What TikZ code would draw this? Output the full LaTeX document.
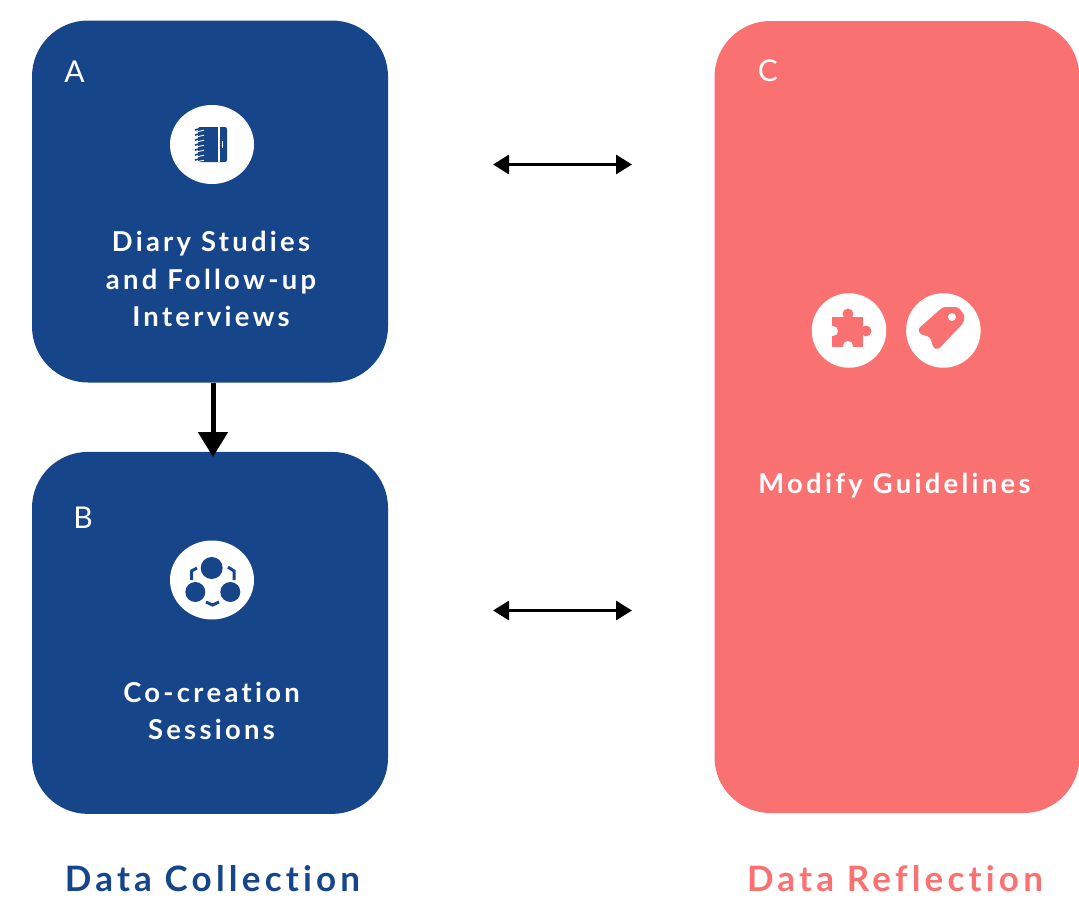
\documentclass[tikz,border=0pt]{standalone}
\usepackage{fontspec}
\setmainfont{Lato}
\usetikzlibrary{arrows.meta, positioning, shapes.geometric}
\definecolor{navy}{HTML}{17458A}
\definecolor{coral}{HTML}{FA7171}
\newfontfamily\boxfont[LetterSpace=12, Ligatures=NoCommon]{Lato Bold}
\newfontfamily\titlefont[LetterSpace=12, Ligatures=NoCommon]{Lato Bold}
\tikzset{%
	panel/.style={draw=none, rectangle, rounded corners=56pt, minimum width=356pt, inner sep=0pt},
	blue/.style={panel, fill=navy, minimum height=362pt},
	pink/.style={panel, fill=coral, minimum width=365pt, minimum height=792pt},
	letter/.style={text=white, font=\fontsize{30}{34}\selectfont},
	blurb/.style={text=white, align=center, font=\boxfont\fontsize{27.4}{37.3}\selectfont},
	title/.style={font=\titlefont\fontsize{35}{40}\selectfont},
	bigicon/.style={draw=none, ellipse, fill=white, inner sep=0pt, minimum width=84pt, minimum height=79pt},
	smallicon/.style={draw=none, circle, fill=white, inner sep=0pt, minimum size=74.5pt},
	link/.style={{Triangle[length=16pt, width=19pt]}-{Triangle[length=16pt, width=19pt]}, line width=3.2pt},
	flow/.style={-{Triangle[length=25pt, width=29pt]}, line width=5pt},
	bracket/.style={navy, line width=3pt}
}
\begin{document}
\begin{tikzpicture}[x=1pt, y=-1pt]
	\useasboundingbox (0,0) rectangle (1079,902);
	\clip (0,0) rectangle (1079,902);

	\node[blue] (boxa) at (210,201.5) {};
	\node[blue, below=69pt of boxa] (boxb) {};
	\node[pink] (boxc) at (897,417) {};

	\node[letter] (la) at (74.5,72) {A};
	\node[letter] (lb) at (83,518) {B};
	\node[letter] (lc) at (768,71) {C};

	\node[bigicon] (icona) at (212,144.5) {};
	\node[bigicon] (iconb) at (212,580) {};
	\node[smallicon] (iconc) at (849,330.5) {};
	\node[smallicon, right=19.5pt of iconc] (icond) {};

	\node[blurb] (ta) at (211,279) {Diary Studies\\and Follow-up\\Interviews};
	\node[blurb] (tb) at (211.5,711) {Co-creation\\Sessions};
	\node[blurb] (tc) at (894.5,486) {Modify Guidelines};

	\node[title, text=navy] (tl) at (212.5,878.5) {Data Collection};
	\node[title, text=coral] (tr) at (895,878.5) {Data Reflection};

	% notebook
	\fill[navy, rounded corners=2pt] (198,127) rectangle (227,162);
	\fill[white] (218.3,127) rectangle (219.7,162);
	\fill[white] (222,141) rectangle (223.2,147.5);
	\foreach \y in {130,135,...,160} {
		\draw[navy, line width=1.6pt] (195,\y) -- (201,\y-1.5);
		\draw[white, line width=0.9pt] (198,\y+1.6) -- (204,\y+0.2);
	}

	% people
	\fill[navy] (211.7,568) circle (11pt);
	\fill[navy] (195.3,592) circle (10pt);
	\fill[navy] (230.3,592) circle (10pt);
	\draw[bracket] (197,568) -- (191.5,571) -- (191.5,580);
	\draw[bracket] (228,567) -- (234,571) -- (234,580);
	\draw[bracket] (206,602) -- (212.5,605) -- (219,602);

	% puzzle
	\fill[coral] (832,317) rectangle (863,347);
	\fill[coral] (848,314) circle (5.5pt);
	\fill[coral] (866,331) circle (5.5pt);
	\fill[white] (833,331) circle (5pt);
	\fill[white] (848,346) circle (5pt);

	% tag
	\fill[coral, rounded corners=2.5pt] (943,307) -- (958,307) -- (964.5,315) -- (963.5,323) -- (938,349.5) -- (933.5,348) -- (930,337) -- (920,334) -- (918,329) -- cycle;
	\fill[white] (952,317) circle (4pt);

	\coordinate (p1) at (493,164.5);
	\coordinate (p2) at (632,164.5);
	\coordinate (q1) at (493,610.5);
	\coordinate (q2) at (632,610.5);
	\coordinate (drop) at (213,457);
	\coordinate (lift) at (213,383);

	\draw[link] (p1) to (p2);
	\draw[link] (q1) to (q2);
	\draw[flow] (lift) to (drop);
\end{tikzpicture}
\end{document}
